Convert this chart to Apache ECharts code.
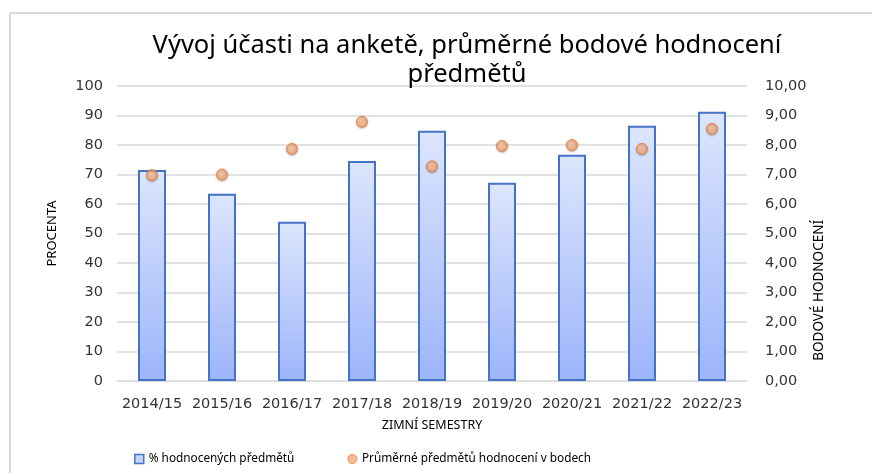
<!DOCTYPE html>
<html><head><meta charset="utf-8">
<script src="https://cdn.jsdelivr.net/npm/echarts@6/dist/echarts.min.js"></script>
<style>html,body{margin:0;padding:0;background:#fff}#c{width:872px;height:473px}</style>
</head><body><div id="c"></div>
<script>
const categories = ['2014/15','2015/16','2016/17','2017/18','2018/19','2019/20','2020/21','2021/22','2022/23'];
const percentValues = [71.5, 63.5, 54.0, 74.6, 84.8, 67.2, 76.7, 86.5, 91.3];
const scoreValues = [6.98, 7.0, 7.87, 8.79, 7.28, 7.97, 8.0, 7.87, 8.55];
const seriesNames = ['% hodnocených předmětů', 'Průměrné předmětů hodnocení v bodech'];
const titleText = 'Vývoj účasti na anketě, průměrné bodové hodnocení\npředmětů';

const narrow = '"Noto Sans", sans-serif';
const tickFont = '"DejaVu Sans", Verdana, sans-serif';
const chart = echarts.init(document.getElementById('c'));
chart.setOption({
  animation: false,
  backgroundColor: '#fff',
  title: {
    text: titleText, left: 462, top: 26, textAlign: 'center',
    textStyle: { fontFamily: narrow, fontSize: 25.5, fontWeight: 'normal', color: '#000', lineHeight: 29 }
  },
  graphic: [
    { type: 'line', shape: { x1: 10, y1: 13, x2: 872, y2: 13 }, style: { stroke: '#d9d9d9', lineWidth: 2 } },
    { type: 'line', shape: { x1: 10, y1: 13, x2: 10, y2: 473 }, style: { stroke: '#d9d9d9', lineWidth: 2 } },
    { type: 'text', left: 812, top: 220, rotation: Math.PI / 2,
      style: { text: 'BODOVÉ HODNOCENÍ', font: '13.5px ' + narrow, fill: '#000' } }
  ],
  legend: {
    left: 129, top: 448, itemGap: 53, itemWidth: 9, itemHeight: 9,
    textStyle: { fontFamily: narrow, fontSize: 11.8, color: '#000' },
    data: [
      { name: seriesNames[0], icon: 'rect', itemStyle: { color: '#c5d3fb', borderColor: '#4472c4', borderWidth: 1.5 } },
      { name: seriesNames[1], icon: 'circle', itemStyle: { color: '#f6a97d', borderColor: '#ed7d31', borderWidth: 1 } }
    ]
  },
  grid: { left: 117, right: 125, top: 86, bottom: 92 },
  xAxis: {
    type: 'category', data: categories,
    name: 'ZIMNÍ SEMESTRY', nameLocation: 'middle', nameGap: 38,
    nameTextStyle: { fontFamily: narrow, fontSize: 12.5, color: '#000' },
    axisLine: { lineStyle: { color: '#d9d9d9', width: 1 } },
    axisTick: { show: false },
    axisLabel: { fontFamily: tickFont, fontSize: 14.5, color: '#333', margin: 16, interval: 0, hideOverlap: false }
  },
  yAxis: [
    {
      type: 'value', min: 0, max: 100, interval: 10,
      name: 'PROCENTA', nameLocation: 'middle', nameGap: 58, nameRotate: 90,
      nameTextStyle: { fontFamily: narrow, fontSize: 13, color: '#000' },
      axisLine: { show: false }, axisTick: { show: false },
      splitLine: { lineStyle: { color: '#d9d9d9', width: 1.5 } },
      axisLabel: { fontFamily: tickFont, fontSize: 14.5, color: '#333', margin: 14 }
    },
    {
      type: 'value', min: 0, max: 10, interval: 1, position: 'right',
      axisLine: { show: false }, axisTick: { show: false }, splitLine: { show: false },
      axisLabel: { fontFamily: tickFont, fontSize: 14.5, color: '#333', margin: 18,
        formatter: v => v.toFixed(2).replace('.', ',') }
    }
  ],
  series: [
    {
      name: seriesNames[0], type: 'bar', data: percentValues, barWidth: '40%', yAxisIndex: 0,
      itemStyle: {
        color: new echarts.graphic.LinearGradient(0, 0, 0, 1, [
          { offset: 0, color: '#dde6fd' }, { offset: 1, color: '#9cb4fa' }
        ]),
        borderColor: '#4472c4', borderWidth: 2
      }
    },
    {
      name: seriesNames[1], type: 'scatter', data: scoreValues, yAxisIndex: 1, symbolSize: 11, z: 5,
      itemStyle: {
        color: new echarts.graphic.RadialGradient(0.4, 0.4, 0.7, [
          { offset: 0, color: '#fbc6a6' }, { offset: 1, color: '#f29a66' }
        ]),
        borderColor: '#ed7d31', borderWidth: 1,
        shadowColor: 'rgba(0,0,0,0.3)', shadowBlur: 2, shadowOffsetY: 1
      }
    }
  ]
});
</script></body></html>
